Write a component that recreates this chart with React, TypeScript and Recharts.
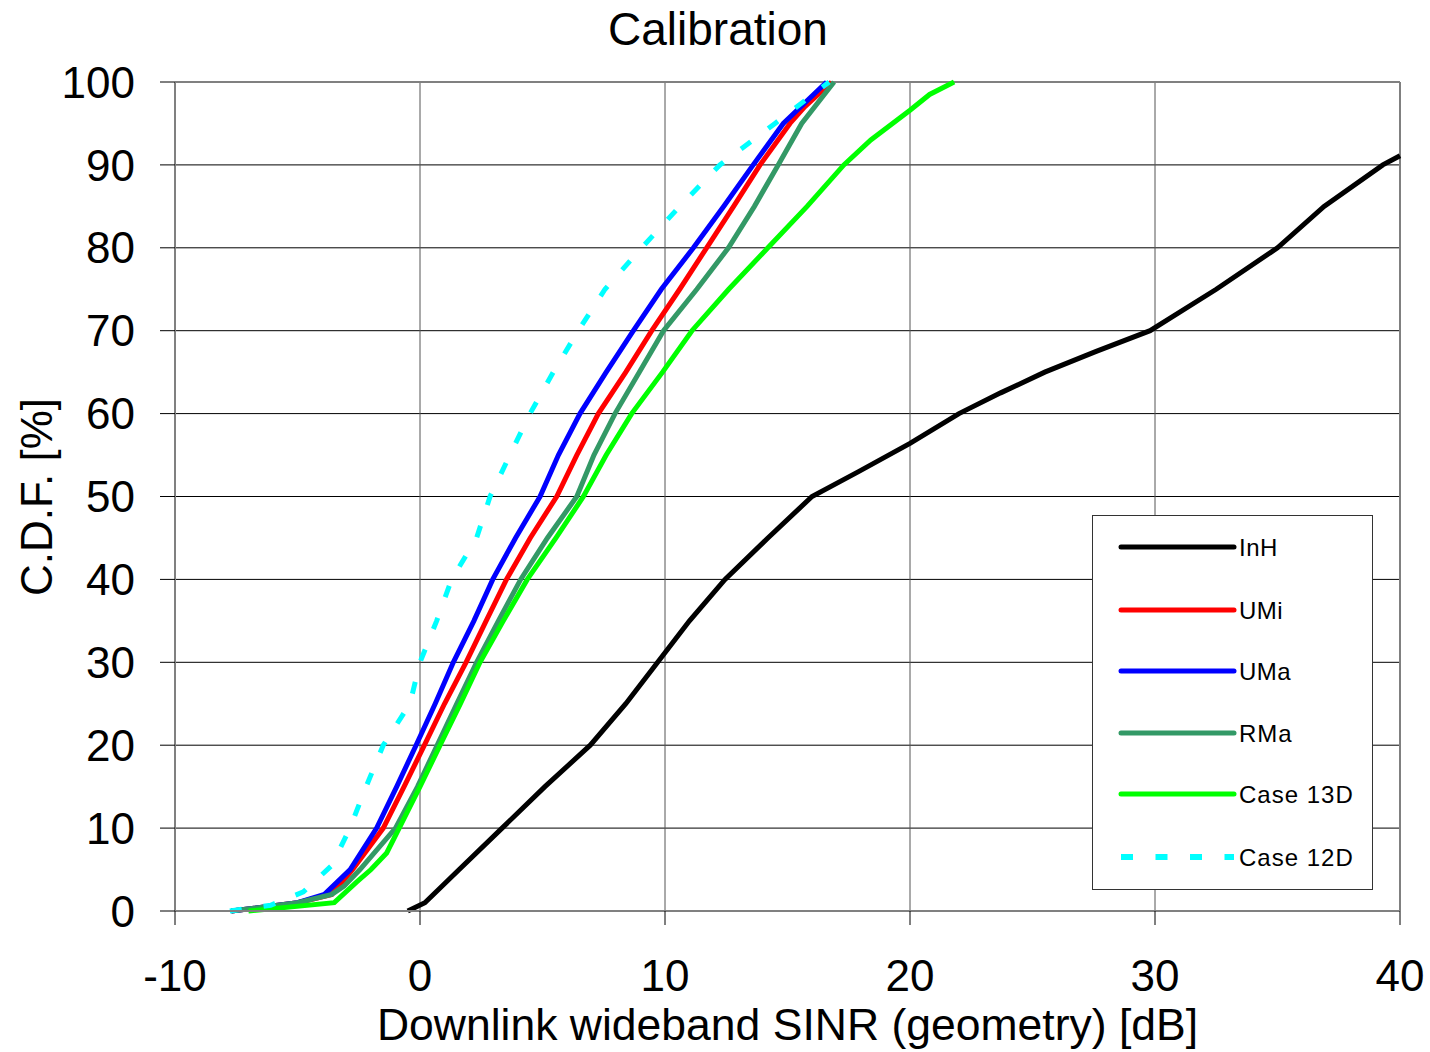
import React from 'react';
import { LineChart, Line, XAxis, YAxis, CartesianGrid, Legend, ReferenceLine } from 'recharts';

const FONT = '"Liberation Sans", Arial, sans-serif';

const xTicks = [-10, 0, 10, 20, 30, 40];
const yTicks = [0, 10, 20, 30, 40, 50, 60, 70, 80, 90, 100];

// Downlink wideband SINR [dB] (x) vs C.D.F. [%] (y)
const inhData = [
  { x: -0.5, y: 0 }, { x: 0.2, y: 1 }, { x: 1.6, y: 5 }, { x: 3.35, y: 10 }, { x: 5.1, y: 15 },
  { x: 6.95, y: 20 }, { x: 8.4, y: 25 }, { x: 9.7, y: 30 }, { x: 11.0, y: 35 }, { x: 12.45, y: 40 },
  { x: 14.2, y: 45 }, { x: 16.0, y: 50 }, { x: 17.9, y: 53 }, { x: 20.0, y: 56.4 }, { x: 22.0, y: 60 },
  { x: 23.7, y: 62.5 }, { x: 25.5, y: 65 }, { x: 27.6, y: 67.5 }, { x: 29.8, y: 70 }, { x: 32.5, y: 75 },
  { x: 35.0, y: 80 }, { x: 36.9, y: 85 }, { x: 39.3, y: 90 }, { x: 40.0, y: 91.1 },
];

const umiData = [
  { x: -7.7, y: 0 }, { x: -5.0, y: 1 }, { x: -3.6, y: 2 }, { x: -2.75, y: 5 }, { x: -1.5, y: 10 },
  { x: -0.65, y: 15 }, { x: 0.18, y: 20 }, { x: 1.0, y: 25 }, { x: 1.88, y: 30 }, { x: 2.7, y: 35 },
  { x: 3.53, y: 40 }, { x: 4.5, y: 45 }, { x: 5.58, y: 50 }, { x: 6.4, y: 55 }, { x: 7.28, y: 60 },
  { x: 8.4, y: 65 }, { x: 9.46, y: 70 }, { x: 10.6, y: 75 }, { x: 11.7, y: 80 }, { x: 12.8, y: 85 },
  { x: 13.88, y: 90 }, { x: 15.1, y: 95 }, { x: 15.7, y: 97 }, { x: 16.8, y: 100 },
];

const umaData = [
  { x: -7.7, y: 0 }, { x: -5.0, y: 1 }, { x: -3.9, y: 2 }, { x: -2.85, y: 5 }, { x: -1.77, y: 10 },
  { x: -0.95, y: 15 }, { x: -0.16, y: 20 }, { x: 0.62, y: 25 }, { x: 1.36, y: 30 }, { x: 2.2, y: 35 },
  { x: 2.97, y: 40 }, { x: 3.9, y: 45 }, { x: 4.9, y: 50 }, { x: 5.65, y: 55 }, { x: 6.53, y: 60 },
  { x: 7.6, y: 65 }, { x: 8.71, y: 70 }, { x: 9.85, y: 75 }, { x: 11.16, y: 80 }, { x: 12.4, y: 85 },
  { x: 13.6, y: 90 }, { x: 14.83, y: 95 }, { x: 16.6, y: 100 },
];

const rmaData = [
  { x: -7.7, y: 0 }, { x: -5.0, y: 1 }, { x: -3.6, y: 2 }, { x: -3.1, y: 3 }, { x: -2.45, y: 5 },
  { x: -1.0, y: 10 }, { x: -0.1, y: 15 }, { x: 0.7, y: 20 }, { x: 1.5, y: 25 }, { x: 2.31, y: 30 },
  { x: 3.2, y: 35 }, { x: 4.11, y: 40 }, { x: 5.2, y: 45 }, { x: 6.4, y: 50 }, { x: 7.1, y: 55 },
  { x: 7.96, y: 60 }, { x: 8.95, y: 65 }, { x: 9.94, y: 70 }, { x: 11.3, y: 75 }, { x: 12.59, y: 80 },
  { x: 13.65, y: 85 }, { x: 14.62, y: 90 }, { x: 15.58, y: 95 }, { x: 16.9, y: 100 },
];

const case13dData = [
  { x: -7.0, y: 0 }, { x: -3.5, y: 1 }, { x: -2.58, y: 3.5 }, { x: -2.0, y: 5 }, { x: -1.36, y: 7 },
  { x: -0.85, y: 10 }, { x: 0.0, y: 15 }, { x: 0.82, y: 20 }, { x: 1.65, y: 25 }, { x: 2.45, y: 30 },
  { x: 3.4, y: 35 }, { x: 4.38, y: 40 }, { x: 5.55, y: 45 }, { x: 6.67, y: 50 }, { x: 7.6, y: 55 },
  { x: 8.64, y: 60 }, { x: 9.9, y: 65 }, { x: 11.1, y: 70 }, { x: 12.6, y: 75 }, { x: 14.2, y: 80 },
  { x: 15.8, y: 85 }, { x: 17.3, y: 90 }, { x: 18.4, y: 93 }, { x: 20.0, y: 96.6 }, { x: 20.8, y: 98.5 },
  { x: 21.8, y: 100 },
];

const case12dData = [
  { x: -7.76, y: 0 }, { x: -6.1, y: 0.7 }, { x: -4.76, y: 2.3 }, { x: -3.6, y: 5.5 }, { x: -2.86, y: 10 },
  { x: -2.2, y: 15 }, { x: -1.5, y: 20 }, { x: -0.41, y: 25 }, { x: 0.0, y: 30 }, { x: 0.68, y: 35 },
  { x: 1.29, y: 40 }, { x: 2.31, y: 45 }, { x: 2.86, y: 50 }, { x: 3.67, y: 55 }, { x: 4.49, y: 60 },
  { x: 5.44, y: 65 }, { x: 6.46, y: 70 }, { x: 7.55, y: 75 }, { x: 9.05, y: 80 }, { x: 10.6, y: 85 },
  { x: 12.24, y: 90 }, { x: 14.49, y: 95 }, { x: 16.7, y: 100 },
];

const seriesNames = ['InH', 'UMi', 'UMa', 'RMa', 'Case 13D', 'Case 12D'];
const seriesData = [inhData, umiData, umaData, rmaData, case13dData, case12dData];
const seriesColors = ['#000000', '#FF0000', '#0000FF', '#339966', '#00FF00', '#00FFFF'];

const legendRowY = [31, 94, 155, 217, 278, 341];

const renderLegend = () => (
  <div
    style={{
      width: 281,
      height: 375,
      border: '1px solid #333',
      boxSizing: 'border-box',
      background: '#fff',
    }}
  >
    <svg width={279} height={373} style={{ display: 'block' }}>
      {seriesNames.map((name, i) => {
        const cy = legendRowY[i];
        const dashed = i === 5;
        return (
          <g key={name}>
            <line
              x1={28}
              x2={141}
              y1={cy}
              y2={cy}
              stroke={seriesColors[i]}
              strokeWidth={dashed ? 6 : 5}
              strokeLinecap={dashed ? 'butt' : 'round'}
              strokeDasharray={dashed ? '12 22.5' : undefined}
            />
            <text x={146} y={cy} dy="0.36em" fontSize={24} fontFamily={FONT} fill="#000" letterSpacing={i >= 3 ? 1 : 0.5}>
              {name}
            </text>
          </g>
        );
      })}
    </svg>
  </div>
);

export default function App() {
  return (
    <div style={{ position: 'absolute', left: 0, top: 0, width: 1430, height: 1052, background: '#fff', fontFamily: FONT }}>
      <div
        style={{
          position: 'absolute', left: 0, top: 6, width: 1436, textAlign: 'center',
          fontSize: 46, lineHeight: 1, color: '#000', whiteSpace: 'nowrap', zIndex: 2,
        }}
      >
        Calibration
      </div>
      <div
        style={{
          position: 'absolute', left: 175, top: 1003, width: 1225, textAlign: 'center',
          fontSize: 44.5, lineHeight: 1, color: '#000', whiteSpace: 'nowrap', zIndex: 2,
        }}
      >
        Downlink wideband SINR (geometry) [dB]
      </div>
      <div
        style={{
          position: 'absolute', left: 37, top: 497, transform: 'translate(-50%, -50%) rotate(-90deg)',
          fontSize: 44, lineHeight: 1, color: '#000', whiteSpace: 'nowrap', zIndex: 2,
        }}
      >
        C.D.F. [%]
      </div>
      <LineChart width={1430} height={1052} margin={{ top: 82, right: 30, bottom: 81, left: 75 }}>
        <CartesianGrid horizontal={true} vertical={false} stroke="#000" strokeWidth={1} />
        <CartesianGrid horizontal={false} vertical={true} stroke="#555" strokeWidth={1} />
        <XAxis
          type="number"
          dataKey="x"
          domain={[-10, 40]}
          ticks={xTicks}
          interval={0}
          height={60}
          tickSize={14}
          tickMargin={35}
          axisLine={{ stroke: '#808080', strokeWidth: 2 }}
          tickLine={{ stroke: '#000', strokeWidth: 1 }}
          tick={{ fill: '#000', fontSize: 44, fontFamily: FONT }}
        />
        <YAxis
          type="number"
          dataKey="y"
          domain={[0, 100]}
          ticks={yTicks}
          interval={0}
          width={100}
          tickSize={15}
          tickMargin={25}
          axisLine={{ stroke: '#808080', strokeWidth: 2 }}
          tickLine={{ stroke: '#000', strokeWidth: 1 }}
          tick={{ fill: '#000', fontSize: 44, fontFamily: FONT }}
        />
        <ReferenceLine y={100} stroke="#808080" strokeWidth={2} />
        <ReferenceLine x={40} stroke="#808080" strokeWidth={2} />
        {seriesNames.map((name, i) => (
          <Line
            key={name}
            name={name}
            data={seriesData[i]}
            dataKey="y"
            type="linear"
            stroke={seriesColors[i]}
            strokeWidth={5}
            strokeDasharray={i === 5 ? '12 22' : undefined}
            dot={false}
            activeDot={false}
            isAnimationActive={false}
          />
        ))}
        <Legend
          layout="vertical"
          align="center"
          verticalAlign="middle"
          content={renderLegend}
          wrapperStyle={{ left: 1092, top: 515, width: 281, height: 375 }}
        />
      </LineChart>
    </div>
  );
}
